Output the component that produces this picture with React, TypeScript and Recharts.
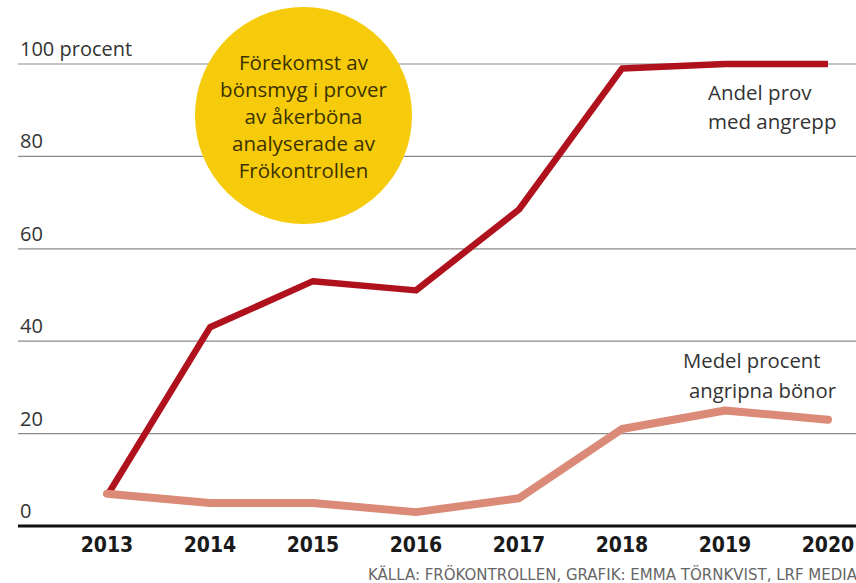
import React from 'react';
import { LineChart, Line, XAxis, YAxis, CartesianGrid } from 'recharts';

const years = [2013, 2014, 2015, 2016, 2017, 2018, 2019, 2020];
const andelProv = [6.5, 43, 53, 51, 68.5, 99, 100, 100];
const medelProcent = [7, 5, 5, 3, 6, 21, 25, 23];
const yTicks = [0, 20, 40, 60, 80, 100];
const yTickLabels = ['0', '20', '40', '60', '80', '100 procent'];
const titleLines = ['Förekomst av', 'bönsmyg i prover', 'av åkerböna', 'analyserade av', 'Frökontrollen'];
const labelAndel = ['Andel prov', 'med angrepp'];
const labelMedel = ['Medel procent', 'angripna bönor'];
const source = 'KÄLLA: FRÖKONTROLLEN, GRAFIK: EMMA TÖRNKVIST, LRF MEDIA';

const data = years.map((y, i) => ({ year: y, andel: andelProv[i], medel: medelProcent[i] }));

const W = 856;
const H = 583;
const sans = "'Open Sans', 'Noto Sans', sans-serif";
const cond = "'DejaVu Sans Condensed', 'DejaVu Sans', sans-serif";

const YTick = (props: any) => {
  const { y, payload } = props;
  const idx = yTicks.indexOf(payload.value);
  return (
    <text x={20} y={y - 8} fill="#333" fontSize={20} fontFamily={sans} textAnchor="start">
      {yTickLabels[idx]}
    </text>
  );
};

const XTick = (props: any) => {
  const { x, y, payload } = props;
  return (
    <text
      x={x}
      y={y + 18}
      fill="#1a1a1a"
      fontSize={21}
      fontWeight={700}
      fontFamily={cond}
      style={{ fontStretch: 'condensed' }}
      textAnchor="middle"
    >
      {payload.value}
    </text>
  );
};

export default function App() {
  return (
    <div style={{ position: 'absolute', left: 0, top: 0, width: W, height: H, background: '#fff', overflow: 'hidden' }}>
      <LineChart width={W} height={H} data={data} margin={{ top: 64, right: 0, left: 0, bottom: 17 }}>
        <CartesianGrid horizontal vertical={false} stroke="#8a8a8a" strokeWidth={1.2} />
        <XAxis
          dataKey="year"
          type="number"
          domain={[2012.136, 2020.272]}
          ticks={years}
          allowDataOverflow
          height={40}
          axisLine={{ stroke: '#111', strokeWidth: 3 }}
          tickLine={false}
          tick={<XTick />}
          interval={0}
        />
        <YAxis
          type="number"
          domain={[0, 100]}
          ticks={yTicks}
          width={18}
          axisLine={false}
          tickLine={false}
          tick={<YTick />}
          interval={0}
        />
        <Line
          dataKey="andel"
          stroke="#b0121d"
          strokeWidth={6.5}
          dot={false}
          activeDot={false}
          isAnimationActive={false}
          strokeLinejoin="round"
        />
        <Line
          dataKey="medel"
          stroke="#db8a78"
          strokeWidth={8}
          dot={false}
          activeDot={false}
          isAnimationActive={false}
          strokeLinejoin="round"
          strokeLinecap="round"
        />
      </LineChart>

      <div
        style={{
          position: 'absolute',
          left: 195,
          top: 7,
          width: 217,
          height: 217,
          borderRadius: '50%',
          background: '#f6cb0c',
        }}
      />
      {titleLines.map((t, i) => (
        <div
          key={t}
          style={{
            position: 'absolute',
            left: 195,
            width: 217,
            top: 48 + i * 27,
            textAlign: 'center',
            fontFamily: sans,
            fontSize: 20.5,
            fontWeight: 500,
            color: '#3b3200',
            lineHeight: '28px',
          }}
        >
          {t}
        </div>
      ))}

      {labelAndel.map((t, i) => (
        <div
          key={t}
          style={{
            position: 'absolute',
            left: 708,
            top: 78 + i * 29,
            fontFamily: sans,
            fontSize: 20.5,
            color: '#333',
            lineHeight: '28px',
            whiteSpace: 'nowrap',
          }}
        >
          {t}
        </div>
      ))}
      {labelMedel.map((t, i) => (
        <div
          key={t}
          style={{
            position: 'absolute',
            left: i === 0 ? 683 : 689,
            top: 346 + i * 30,
            fontFamily: sans,
            fontSize: 20.3,
            color: '#333',
            lineHeight: '28px',
            whiteSpace: 'nowrap',
          }}
        >
          {t}
        </div>
      ))}

      <div
        style={{
          position: 'absolute',
          left: 368,
          top: 564,
          fontFamily: cond,
          fontStretch: 'condensed',
          fontSize: 16.7,
          color: '#666',
          whiteSpace: 'nowrap',
          lineHeight: '20px',
        }}
      >
        {source}
      </div>
    </div>
  );
}
